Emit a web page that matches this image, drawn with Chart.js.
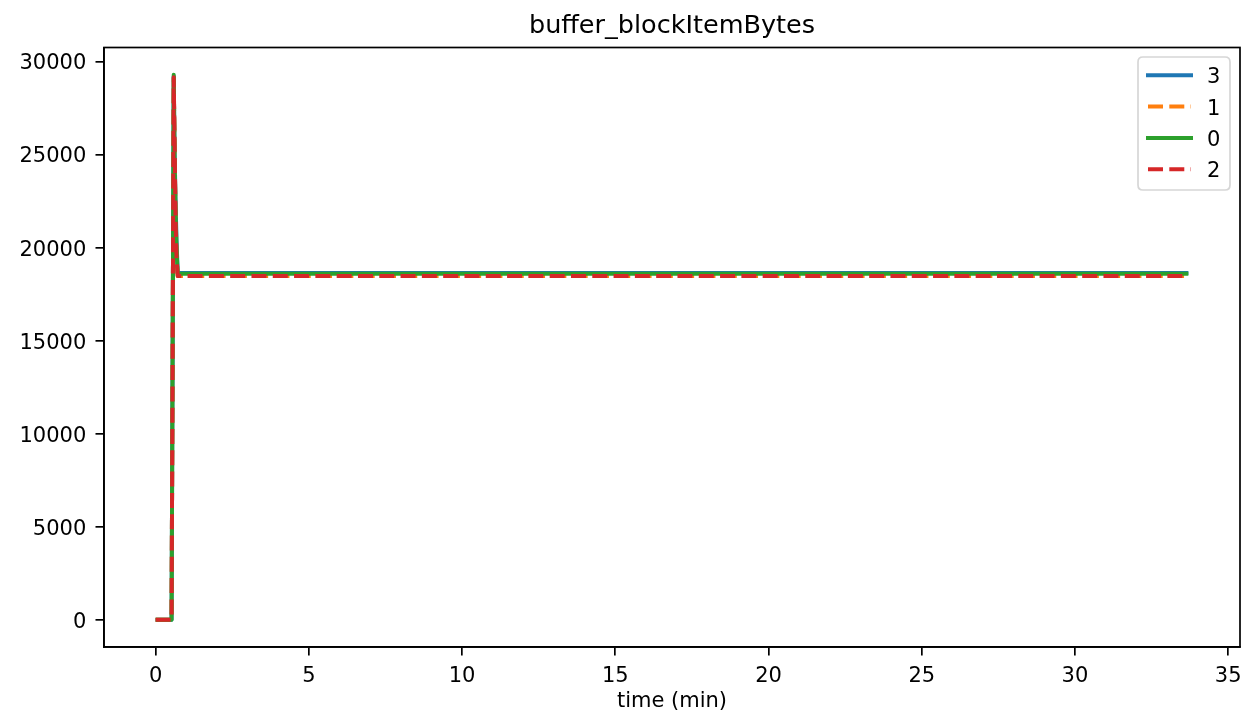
<!DOCTYPE html>
<html>
<head>
<meta charset="utf-8">
<script src="https://cdn.jsdelivr.net/npm/chart.js@4"></script>
<style>
html,body{margin:0;padding:0;background:#fff;}
canvas{display:block;}
</style>
</head>
<body>
<canvas id="c" width="1246" height="719"></canvas>
<script>
// ---- data ----
const chartTitle = "buffer_blockItemBytes";
const xLabel = "time (min)";
const times   = [0, 0.52, 0.59, 0.62, 0.65, 0.68, 0.72, 33.7];
const series3 = [0, 0, 29200, 25000, 22500, 20500, 18640, 18640];
const series1 = [0, 0, 29100, 25200, 21800, 19800, 18470, 18470];
const series0 = [0, 0, 29290, 24500, 22000, 20000, 18600, 18600];
const series2 = [0, 0, 29150, 25500, 21500, 19500, 18480, 18480];
const seriesNames = ["3", "1", "0", "2"];
const xTicks = [0, 5, 10, 15, 20, 25, 30, 35];
const yTicks = [0, 5000, 10000, 15000, 20000, 25000, 30000];

const FONT = "'DejaVu Sans', sans-serif";
const colors = ["#1f77b4", "#ff7f0e", "#2ca02c", "#d62728"];
const dashes = [[], [15, 6.3], [], [15, 6.3]];
const allSeries = [series3, series1, series0, series2];

function pts(vals){ return times.map((t,i)=>({x:t, y:vals[i]})); }

const allY = allSeries.flat();
const xr = Math.max(...times) - Math.min(...times);
const yr = Math.max(...allY) - Math.min(...allY);
const xMin = Math.min(...times) - 0.05*xr, xMax = Math.max(...times) + 0.05*xr;
const yMin = Math.min(...allY) - 0.05*yr, yMax = Math.max(...allY) + 0.05*yr;

const datasets = allSeries.map((s,i)=>({
  label: seriesNames[i],
  data: pts(s),
  borderColor: colors[i],
  backgroundColor: colors[i],
  borderWidth: 4,
  borderDash: dashes[i],
  borderCapStyle: 'butt',
  borderJoinStyle: 'round',
  pointRadius: 0,
  tension: 0,
  fill: false,
  order: allSeries.length - 1 - i
}));

const framePlugin = {
  id: 'frame',
  afterDatasetsDraw(chart){
    const {ctx, chartArea:a} = chart;
    ctx.save();
    ctx.strokeStyle = '#000';
    ctx.lineWidth = 1.7;
    ctx.strokeRect(a.left, a.top, a.right - a.left, a.bottom - a.top);
    ctx.restore();
  },
  afterDraw(chart){
    const {ctx, chartArea:a} = chart;
    const xs = chart.scales.x, ys = chart.scales.y;
    ctx.save();
    ctx.fillStyle = '#000';
    // tick labels
    ctx.font = "21px " + FONT;
    ctx.textBaseline = 'alphabetic';
    ctx.textAlign = 'center';
    xs.ticks.forEach(t => {
      ctx.fillText(String(t.value), xs.getPixelForValue(t.value), 681.7);
    });
    ctx.textAlign = 'right';
    ys.ticks.forEach(t => {
      ctx.fillText(String(t.value), 86.3, ys.getPixelForValue(t.value) + 7.9);
    });
    // title
    ctx.font = "25.5px " + FONT;
    ctx.textAlign = 'center';
    const cx = (a.left + a.right)/2;
    ctx.fillText(chartTitle, cx, 33);
    // x label
    ctx.font = "21px " + FONT;
    ctx.fillText(xLabel, cx, 707);
    // legend
    const bx = 1138, by = 57, bw = 92, bh = 133, r = 5;
    ctx.beginPath();
    ctx.moveTo(bx + r, by);
    ctx.lineTo(bx + bw - r, by);
    ctx.quadraticCurveTo(bx + bw, by, bx + bw, by + r);
    ctx.lineTo(bx + bw, by + bh - r);
    ctx.quadraticCurveTo(bx + bw, by + bh, bx + bw - r, by + bh);
    ctx.lineTo(bx + r, by + bh);
    ctx.quadraticCurveTo(bx, by + bh, bx, by + bh - r);
    ctx.lineTo(bx, by + r);
    ctx.quadraticCurveTo(bx, by, bx + r, by);
    ctx.closePath();
    ctx.fillStyle = 'rgba(255,255,255,0.8)';
    ctx.fill();
    ctx.strokeStyle = 'rgba(204,204,204,0.8)';
    ctx.lineWidth = 1.7;
    ctx.stroke();
    chart.data.datasets.forEach((ds, i) => {
      const y = 75.3 + i*31.3;
      ctx.beginPath();
      ctx.strokeStyle = ds.borderColor;
      ctx.lineWidth = 4;
      const dashed = ds.borderDash && ds.borderDash.length;
      ctx.setLineDash(dashed ? ds.borderDash : []);
      ctx.lineCap = dashed ? 'butt' : 'square';
      ctx.moveTo(1148, y);
      ctx.lineTo(1191, y);
      ctx.stroke();
      ctx.setLineDash([]);
      ctx.fillStyle = '#000';
      ctx.font = "21px " + FONT;
      ctx.textAlign = 'left';
      ctx.textBaseline = 'alphabetic';
      ctx.fillText(ds.label, 1207, y + 7.9);
    });
    ctx.restore();
  }
};

const bgPlugin = {
  id: 'bg',
  beforeDraw(chart){
    const ctx = chart.ctx;
    ctx.save();
    ctx.fillStyle = '#fff';
    ctx.fillRect(0, 0, chart.width, chart.height);
    ctx.restore();
  }
};

Chart.defaults.font.family = FONT;
Chart.defaults.color = '#000';

new Chart(document.getElementById('c'), {
  type: 'line',
  data: { datasets },
  options: {
    responsive: false,
    animation: false,
    devicePixelRatio: 1,
    layout: { padding: { left: 0, top: 47.5, right: 6, bottom: 0 } },
    plugins: { legend: { display: false }, title: { display: false }, tooltip: { enabled: false } },
    scales: {
      x: {
        type: 'linear',
        min: xMin, max: xMax,
        afterFit(scale){ scale.height = 72; },
        afterBuildTicks(scale){ scale.ticks = xTicks.map(v=>({value:v})); },
        ticks: { display: false, autoSkip: false, includeBounds: false },
        grid: { display: true, drawOnChartArea: false, drawTicks: true, tickLength: 8.5, color: '#000', lineWidth: 1.7 },
        border: { display: true, color: '#000', width: 1.7 }
      },
      y: {
        type: 'linear',
        min: yMin, max: yMax,
        afterFit(scale){ scale.width = 104; },
        afterBuildTicks(scale){ scale.ticks = yTicks.map(v=>({value:v})); },
        ticks: { display: false, autoSkip: false, includeBounds: false },
        grid: { display: true, drawOnChartArea: false, drawTicks: true, tickLength: 8.5, color: '#000', lineWidth: 1.7 },
        border: { display: true, color: '#000', width: 1.7 }
      }
    }
  },
  plugins: [bgPlugin, framePlugin]
});
</script>
</body>
</html>
